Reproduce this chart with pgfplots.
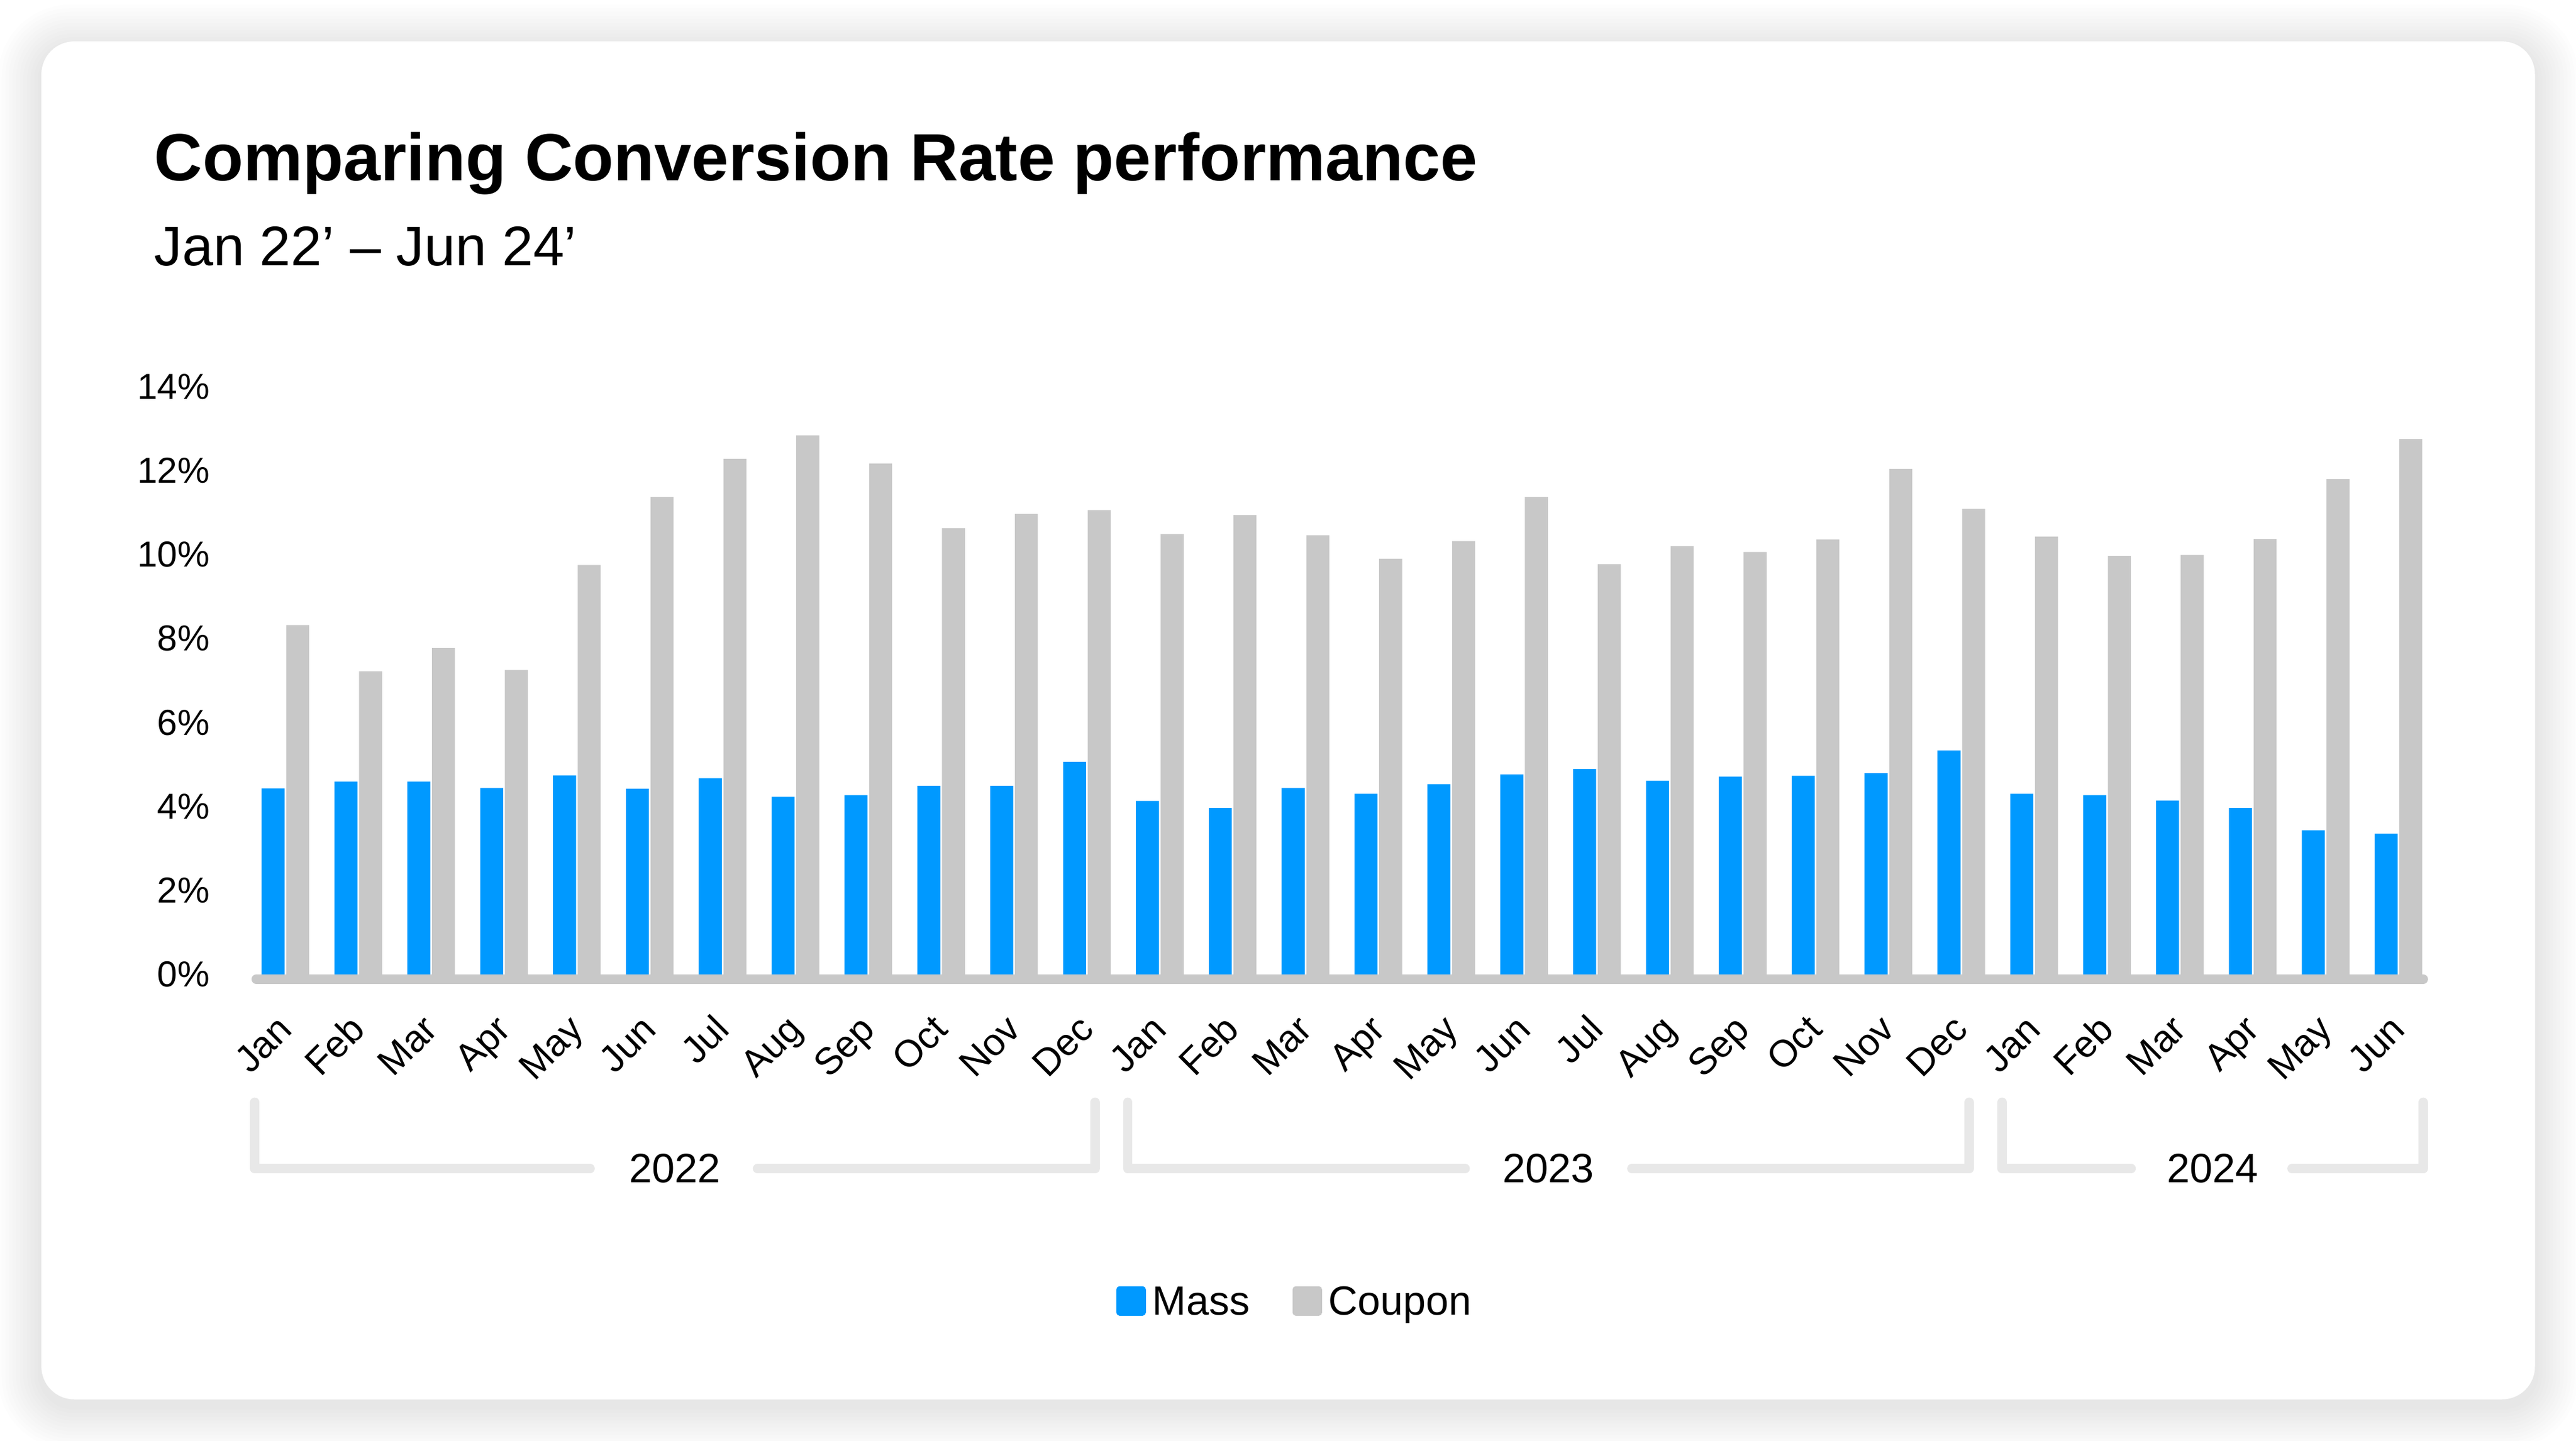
\documentclass[border=0pt]{standalone}
\usepackage{fontspec}
\setmainfont{Liberation Sans}
\usepackage{pgfplots}
\pgfplotsset{compat=1.18}

\definecolor{massblue}{RGB}{0,153,255}
\definecolor{coupongray}{RGB}{200,200,200}
\definecolor{bracketgray}{RGB}{232,232,232}

\begin{document}
\begin{tikzpicture}
\useasboundingbox (0,0) rectangle (784pt,-438.5pt);
\fill[white] (0,0) rectangle (784pt,-438.5pt);

% soft card shadow
\foreach \i in {1,...,12}{
  \pgfmathsetmacro\r{10+\i}
  \pgfmathsetmacro\xa{12.6-1.1*\i}
  \pgfmathsetmacro\ya{-12.6+1.1*\i-2}
  \pgfmathsetmacro\xb{771.5+1.1*\i}
  \pgfmathsetmacro\yb{-426-1.1*\i-2}
  \fill[black, opacity=0.006, rounded corners=\r pt]
    (\xa pt,\ya pt) rectangle (\xb pt,\yb pt);
}
\fill[white, rounded corners=10pt] (12.6pt,-12.6pt) rectangle (771.5pt,-426pt);

\node[anchor=base west, inner sep=0pt, font=\fontsize{20.3}{24}\selectfont\bfseries]
  at (46.8pt,-55pt) {Comparing Conversion Rate performance};
\node[anchor=base west, inner sep=0pt, font=\fontsize{17}{20}\selectfont]
  at (46.8pt,-80.8pt) {Jan 22’ – Jun 24’};

\begin{axis}[
  at={(78pt,-296.6pt)}, anchor=south west,
  scale only axis, width=659.5pt, height=178.9pt,
  xmin=-0.40, xmax=29.34, ymin=0, ymax=14,
  clip=false,
  axis line style={draw=none},
  major tick length=0pt,
  /pgf/number format/assume math mode=true,
  ytick={0,2,...,14},
  yticklabel={\pgfmathprintnumber{\tick}\%},
  yticklabel style={inner sep=0pt, anchor=east, xshift=-14pt, font=\fontsize{11}{13}\selectfont},
  xtick={0,...,29},
  xticklabels={Jan,Feb,Mar,Apr,May,Jun,Jul,Aug,Sep,Oct,Nov,Dec,
               Jan,Feb,Mar,Apr,May,Jun,Jul,Aug,Sep,Oct,Nov,Dec,
               Jan,Feb,Mar,Apr,May,Jun},
  xticklabel style={inner sep=0pt, xshift=2.7pt, yshift=-17.3pt, rotate=45, anchor=base east,
                    font=\fontsize{11.5}{13}\selectfont},
  legend columns=2,
  legend style={at={(0.4788,-0.5595)}, anchor=center, draw=none, fill=none,
                font=\fontsize{12.4}{14}\selectfont,
                nodes={inner sep=0pt},
                /tikz/every even column/.append style={column sep=13pt},
                /tikz/every odd column/.append style={column sep=2pt}},
  legend image code/.code={\fill[#1, rounded corners=1pt] (0pt,-3.8pt) rectangle (9pt,5.2pt);},
]

\addplot[ybar, bar width=7pt, bar shift=-3.75pt, fill=massblue, draw=none] coordinates {
  (0,4.43) (1,4.59) (2,4.59) (3,4.44) (4,4.74) (5,4.42) (6,4.67) (7,4.23) (8,4.27) (9,4.49) (10,4.49) (11,5.06)
  (12,4.13) (13,3.96) (14,4.44) (15,4.30) (16,4.53) (17,4.76) (18,4.89) (19,4.61) (20,4.71) (21,4.73) (22,4.79) (23,5.33)
  (24,4.30) (25,4.27) (26,4.14) (27,3.96) (28,3.43) (29,3.35)
};
\addplot[ybar, bar width=7pt, bar shift=3.75pt, fill=coupongray, draw=none] coordinates {
  (0,8.32) (1,7.22) (2,7.77) (3,7.25) (4,9.75) (5,11.37) (6,12.28) (7,12.84) (8,12.17) (9,10.63) (10,10.97) (11,11.06)
  (12,10.49) (13,10.94) (14,10.46) (15,9.90) (16,10.32) (17,11.37) (18,9.77) (19,10.20) (20,10.06) (21,10.36) (22,12.04) (23,11.09)
  (24,10.43) (25,9.97) (26,9.99) (27,10.37) (28,11.80) (29,12.75)
};
\legend{Mass, Coupon}

% baseline
\draw[coupongray, line width=2.9pt, line cap=round]
  ([yshift=-1.45pt]axis cs:-0.40,0) -- ([yshift=-1.45pt]axis cs:29.34,0);

% year brackets
\begin{scope}[bracketgray, line width=2.9pt, line cap=round, line join=round]
  \draw (axis cs:-0.42,-3.05) -- (axis cs:-0.42,-4.63) -- (axis cs:4.18,-4.63);
  \draw (axis cs:6.48,-4.63) -- (axis cs:11.11,-4.63) -- (axis cs:11.11,-3.05);
  \draw (axis cs:11.56,-3.05) -- (axis cs:11.56,-4.63) -- (axis cs:16.19,-4.63);
  \draw (axis cs:18.48,-4.63) -- (axis cs:23.11,-4.63) -- (axis cs:23.11,-3.05);
  \draw (axis cs:23.56,-3.05) -- (axis cs:23.56,-4.63) -- (axis cs:25.33,-4.63);
  \draw (axis cs:27.54,-4.63) -- (axis cs:29.34,-4.63) -- (axis cs:29.34,-3.05);
\end{scope}
\begin{scope}[every node/.style={inner sep=0pt, anchor=center, font=\fontsize{12.5}{14}\selectfont}]
  \node at (axis cs:5.345,-4.63) {2022};
  \node at (axis cs:17.335,-4.63) {2023};
  \node at (axis cs:26.45,-4.63) {2024};
\end{scope}
\end{axis}
\end{tikzpicture}
\end{document}
